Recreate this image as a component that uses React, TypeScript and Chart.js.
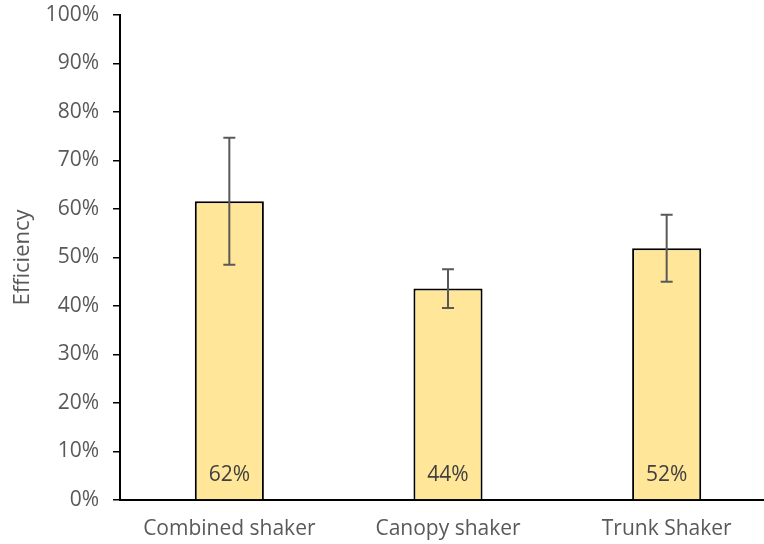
import React, { useEffect, useRef } from "react";
import { Chart, registerables } from "chart.js";

Chart.register(...registerables);

const categories = ["Combined shaker", "Canopy shaker", "Trunk Shaker"];
const efficiency = [61.6, 43.6, 51.9];
const errors = [13.1, 4.0, 6.9];
const yTicksMax = 100;
const yTickStep = 10;

const FONT = "'Open Sans', sans-serif";
const GREY = "#595959";

const errorBarPlugin = {
  id: "errorBars",
  afterDatasetsDraw(chart: any) {
    const meta = chart.getDatasetMeta(0);
    const yScale = chart.scales.y;
    const ctx = chart.ctx;
    ctx.save();
    ctx.strokeStyle = GREY;
    ctx.lineWidth = 2;
    meta.data.forEach((bar: any, i: number) => {
      const x = bar.x;
      const top = yScale.getPixelForValue(efficiency[i] + errors[i]);
      const bot = yScale.getPixelForValue(efficiency[i] - errors[i]);
      ctx.beginPath();
      ctx.moveTo(x, top);
      ctx.lineTo(x, bot);
      ctx.moveTo(x - 6, top);
      ctx.lineTo(x + 6, top);
      ctx.moveTo(x - 6, bot);
      ctx.lineTo(x + 6, bot);
      ctx.stroke();
    });
    // data labels
    ctx.fillStyle = "#404040";
    ctx.font = `21px ${FONT}`;
    ctx.textAlign = "center";
    ctx.textBaseline = "middle";
    const base = yScale.getPixelForValue(0);
    meta.data.forEach((bar: any, i: number) => {
      ctx.fillText(Math.round(efficiency[i]) + "%", bar.x, base - 25);
    });
    ctx.restore();
  },
};

export default function App() {
  const ref = useRef<HTMLCanvasElement>(null);
  useEffect(() => {
    if (!ref.current) return;
    const chart = new Chart(ref.current, {
      type: "bar",
      data: {
        labels: categories,
        datasets: [
          {
            data: efficiency,
            backgroundColor: "#FFE699",
            borderColor: "#000000",
            borderWidth: 2,
            categoryPercentage: 1,
            barPercentage: 0.316,
          },
        ],
      },
      plugins: [errorBarPlugin],
      options: {
        animation: false,
        responsive: false,
        layout: { padding: { top: 15, left: 0, right: 0, bottom: 0 } },
        plugins: { legend: { display: false }, tooltip: { enabled: false } },
        scales: {
          x: {
            grid: { display: false },
            border: { display: true, color: "#000", width: 2 },
            ticks: {
              color: GREY,
              font: { family: FONT, size: 21 },
              padding: 8,
              maxRotation: 0,
            },
            afterFit: (s: any) => {
              s.height = 44;
              s.paddingLeft = 0;
              s.paddingRight = 0;
            },
          },
          y: {
            min: 0,
            max: yTicksMax,
            grid: {
              drawOnChartArea: false,
              drawTicks: true,
              tickLength: 7,
              color: "#000",
              lineWidth: 1.5,
            },
            border: { display: true, color: "#000", width: 2 },
            ticks: {
              stepSize: yTickStep,
              color: GREY,
              font: { family: FONT, size: 21 },
              padding: 14,
              callback: (v: any) => v + "%",
            },
            title: {
              display: true,
              text: "Efficiency",
              color: GREY,
              font: { family: FONT, size: 22 },
              padding: { top: 10, bottom: 0 },
            },
            afterFit: (s: any) => {
              s.width = 120;
              s.paddingTop = 0;
              s.paddingBottom = 0;
            },
          },
        },
      },
    });
    return () => chart.destroy();
  }, []);
  return (
    <div
      style={{
        position: "fixed",
        left: 0,
        top: 0,
        width: 764,
        height: 544,
        overflow: "hidden",
        background: "#fff",
      }}
    >
      <canvas
        ref={ref}
        width={776}
        height={544}
        style={{ display: "block", width: 776, height: 544 }}
      />
    </div>
  );
}
